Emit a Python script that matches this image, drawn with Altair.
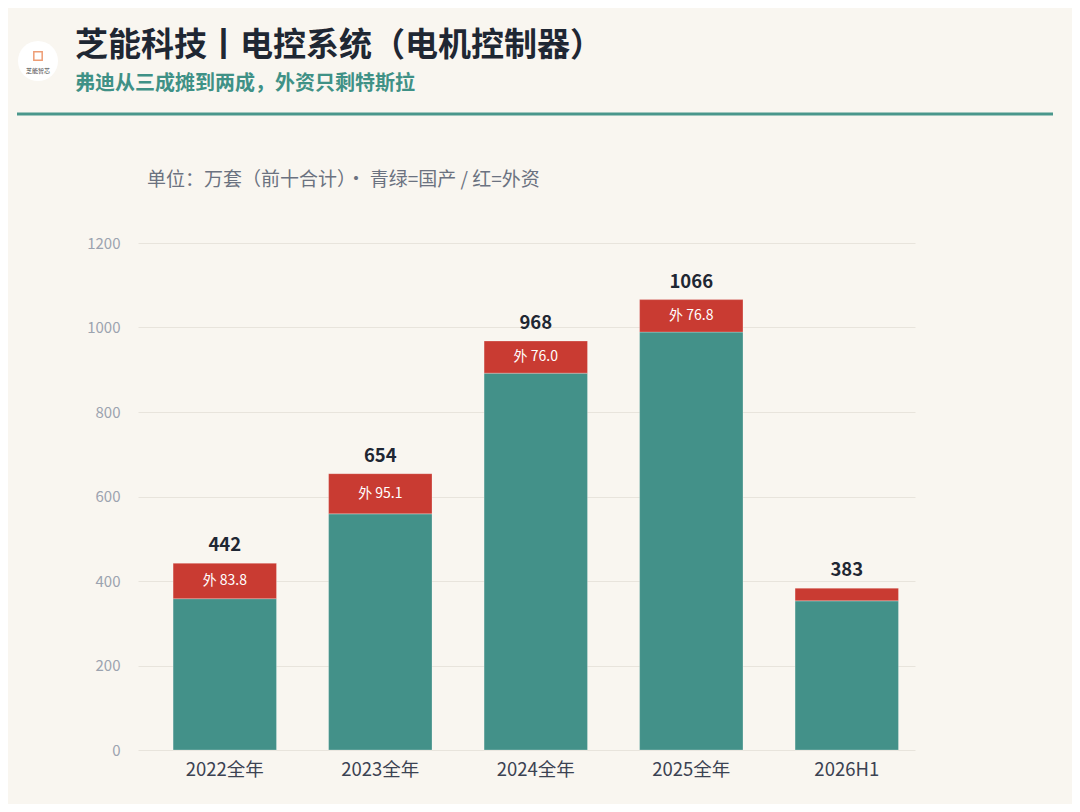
import altair as alt
import pandas as pd

categories = ["2022全年", "2023全年", "2024全年", "2025全年", "2026H1"]
totals = [442, 654, 968, 1066, 383]
foreign = [83.8, 95.1, 76.0, 76.8, 30.0]
domestic = [t - f for t, f in zip(totals, foreign)]
foreign_labels = ["外 83.8", "外 95.1", "外 76.0", "外 76.8", ""]

FONT = "Noto Sans CJK SC"
BG = "#f9f6f0"
TEAL = "#439189"
RED = "#c93b32"

rows = []
for c, d, f, t, fl in zip(categories, domestic, foreign, totals, foreign_labels):
    rows.append(dict(cat=c, part="国产", start=0, end=d, total=t, flab=fl, mid=d + f / 2))
    rows.append(dict(cat=c, part="外资", start=d, end=t, total=t, flab=fl, mid=d + f / 2))
df = pd.DataFrame(rows)

W, H = 777, 507

xscale = alt.Scale(domain=categories, paddingInner=0.335, paddingOuter=0.166, align=0.68)
x = alt.X("cat:N", sort=categories, title=None, scale=xscale,
          axis=alt.Axis(labelAngle=0, labelFont=FONT, labelFontSize=18.5, labelColor="#3b4252",
                        labelPadding=10, domain=False, ticks=False))
y = alt.Y("start:Q", title=None,
          scale=alt.Scale(domain=[0, 1200]),
          axis=alt.Axis(values=[0, 200, 400, 600, 800, 1000, 1200], format="d", labelFont=FONT,
                        labelFontSize=15, labelColor="#9ca3af", labelPadding=18, domain=False,
                        ticks=False, gridColor="#e8e4dc", gridWidth=1))

bars = alt.Chart(df).mark_bar(stroke="#ffffff", strokeOpacity=0.25, strokeWidth=1).encode(
    x=x, y=y, y2="end:Q",
    color=alt.Color("part:N", scale=alt.Scale(domain=["国产", "外资"], range=[TEAL, RED]), legend=None),
)

tot_df = df[df.part == "外资"]
xs = alt.X("cat:N", sort=categories, scale=xscale)
tot_text = alt.Chart(tot_df).mark_text(font=FONT, fontSize=18.5, fontWeight="bold", color="#1f2733",
                                       dy=-18).encode(x=xs, y="total:Q", text="total:Q")

f_text = alt.Chart(tot_df).mark_text(font=FONT, fontSize=14, color="#ffffff").encode(
    x=xs, y="mid:Q", text="flab:N")

# decorations (pixel positions relative to plot origin at page (138, 243))
ox, oy = 138, 243
title_df = pd.DataFrame([{"t": "芝能科技丨电控系统（电机控制器）"}])
title = alt.Chart(title_df).mark_text(font=FONT, fontSize=33, fontWeight="bold", color="#1f2733",
                                      align="left", baseline="middle").encode(
    x=alt.value(75 - ox), y=alt.value(46 - oy), text="t:N")
sub_df = pd.DataFrame([{"t": "弗迪从三成摊到两成，外资只剩特斯拉"}])
sub = alt.Chart(sub_df).mark_text(font=FONT, fontSize=20, fontWeight="bold", color="#3f9186",
                                  align="left", baseline="middle").encode(
    x=alt.value(75 - ox), y=alt.value(84 - oy), text="t:N")
unit_df = pd.DataFrame([{"t": "单位：万套（前十合计）· 青绿=国产 / 红=外资"}])
unit = alt.Chart(unit_df).mark_text(font=FONT, fontSize=19, color="#6b7280",
                                    align="left", baseline="middle").encode(
    x=alt.value(147 - ox), y=alt.value(180 - oy), text="t:N")
hline = alt.Chart(title_df).mark_rule(color="#4a978c", strokeWidth=3).encode(
    x=alt.value(17 - ox), x2=alt.value(1053 - ox), y=alt.value(114 - oy))
logo = alt.Chart(title_df).mark_point(shape="circle", filled=True, color="#ffffff", opacity=1, size=1600).encode(
    x=alt.value(38 - ox), y=alt.value(61 - oy))
logo_icon = alt.Chart(title_df).mark_point(shape="square", filled=False, color="#e8743b", strokeWidth=1.5,
                                           size=70).encode(
    x=alt.value(38 - ox), y=alt.value(56 - oy))
logo_txt_df = pd.DataFrame([{"t": "芝能智芯"}])
logo_txt = alt.Chart(logo_txt_df).mark_text(font=FONT, fontSize=6, color="#444444").encode(
    x=alt.value(38 - ox), y=alt.value(71 - oy), text="t:N")

chart = alt.layer(bars, tot_text, f_text, hline, logo, logo_icon, logo_txt, title, sub, unit).properties(
    width=W, height=H,
    background=BG,
    autosize=alt.AutoSizeParams(type="none"),
    padding={"left": ox - 8, "top": oy - 8, "right": 1080 - ox - W - 8, "bottom": 812 - oy - H - 8},
).configure_view(stroke=None)

chart.save("out.html", embed_options={"renderer": "svg", "actions": False})
